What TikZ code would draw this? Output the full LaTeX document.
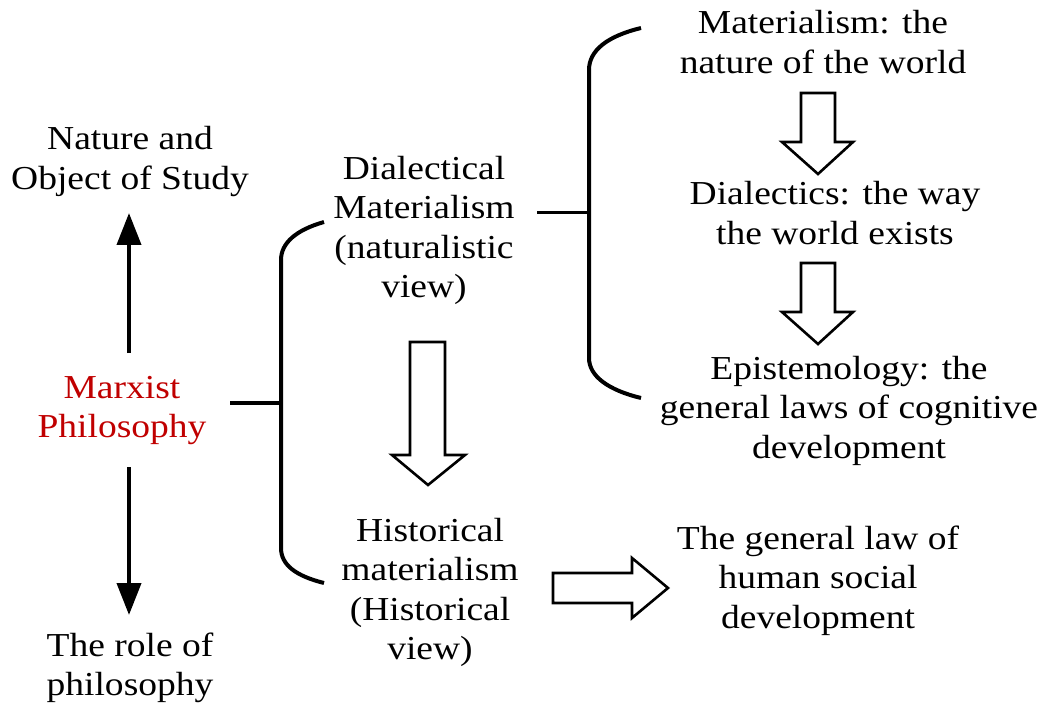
\documentclass[tikz,border=0pt]{standalone}
\usepackage{fontspec}
\setmainfont{Liberation Serif}[FakeStretch=1.12]
\usetikzlibrary{arrows.meta}
\definecolor{mxred}{HTML}{C00000}
\tikzset{
  txt/.style={align=center,inner sep=0pt,font=\fontsize{33.5}{39.5}\selectfont,
    execute at begin node=\strut, execute at end node=\strut, yshift=-6pt},
  brk/.style={line width=4pt},
  arr/.style={line width=4pt,-{Triangle[width=24pt,length=32pt]}},
  blk/.style={line width=2.6pt,line join=miter,fill=white}
}
\begin{document}
\begin{tikzpicture}[x=1pt,y=-1pt]
\useasboundingbox (0,0) rectangle (1046,703);
% text nodes
\node[txt] (nat) at (130,158) {Nature and\\Object of Study};
\node[txt,text=mxred] (mp) at (122,407) {Marxist\\Philosophy};
\node[txt] (role) at (130,664) {The role of\\philosophy};
\node[txt] (dm) at (424,227) {Dialectical\\Materialism\\(naturalistic\\view)};
\node[txt] (hm) at (430,589) {Historical\\materialism\\(Historical\\view)};
\node[txt] (mat) at (823,42) {Materialism: the\\nature of the world};
\node[txt] (dia) at (835,213) {Dialectics: the way\\the world exists};
\node[txt] (epi) at (849,407) {Epistemology: the\\general laws of cognitive\\development};
\node[txt] (gl) at (818,577) {The general law of\\human social\\development};
% left arrows
\coordinate (upS) at (129,353);
\coordinate (upE) at (129,213);
\coordinate (dnS) at (129,467);
\coordinate (dnE) at (129,615);
\draw[arr] (upS) -- (upE);
\draw[arr] (dnS) -- (dnE);
% left bracket
\coordinate (b1t) at (230,403);
\coordinate (b1m) at (281,403);
\draw[brk] (b1t) -- (b1m);
\draw[brk,line join=round] (324,222) .. controls (296,230) and (281,243) .. (281,260)
  -- (281,548) .. controls (281,565) and (296,576) .. (324,583);
% right bracket
\coordinate (b2t) at (537,213);
\coordinate (b2m) at (589,213);
\draw[line width=3pt] (b2t) -- (b2m);
\draw[brk] (641,28) .. controls (608,36) and (589,50) .. (589,70)
  -- (589,358) .. controls (589,376) and (608,390) .. (641,398);
% big down block arrow
\draw[blk] (410,342) -- (445,342) -- (445,455) -- (465,455) -- (428,485)
  -- (392,455) -- (410,455) -- cycle;
% right block arrow
\draw[blk] (553,573) -- (632,573) -- (632,558) -- (668,588) -- (632,618)
  -- (632,603) -- (553,603) -- cycle;
% small down block arrows
\draw[blk] (801,93) -- (835,93) -- (835,142) -- (853,142) -- (818,174)
  -- (782,142) -- (801,142) -- cycle;
\draw[blk] (801,263) -- (835,263) -- (835,312) -- (853,312) -- (818,344)
  -- (782,312) -- (801,312) -- cycle;
\end{tikzpicture}
\end{document}
